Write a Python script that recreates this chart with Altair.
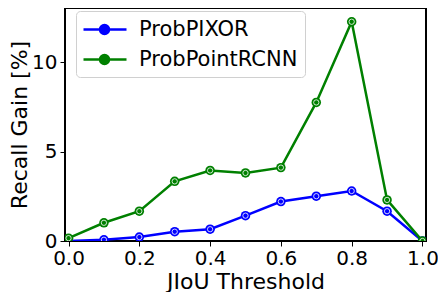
import altair as alt
import pandas as pd

thresholds = [0.0, 0.1, 0.2, 0.3, 0.4, 0.5, 0.6, 0.7, 0.8, 0.9, 1.0]
prob_pixor = [0.0, 0.07, 0.22, 0.52, 0.66, 1.42, 2.21, 2.51, 2.80, 1.67, 0.0]
prob_pointrcnn = [0.16, 1.02, 1.67, 3.34, 3.95, 3.81, 4.11, 7.76, 12.28, 2.30, 0.0]
series_names = ["ProbPIXOR", "ProbPointRCNN"]
series_colors = ["#0000ff", "#008000"]
x_ticks = [0.0, 0.2, 0.4, 0.6, 0.8, 1.0]
y_ticks = [0, 5, 10]

rows = []
for i, t in enumerate(thresholds):
    rows.append({"x": t, "y": prob_pixor[i], "series": series_names[0]})
    rows.append({"x": t, "y": prob_pointrcnn[i], "series": series_names[1]})
df = pd.DataFrame(rows)

FONT = "DejaVu Sans"
xs = alt.Scale(domain=[-0.01, 1.01], nice=False, zero=False)
ys = alt.Scale(domain=[0, 13.05], nice=False, zero=False)
cscale = alt.Scale(domain=series_names, range=series_colors)

# legend glyph: a line with a marker, drawn right of the symbol box centre
legend_path = ("M -1.1 0 L 3.2 0 M 1.45 0 A 0.45 0.45 0 1 1 0.55 0 "
               "A 0.45 0.45 0 1 1 1.45 0 Z")

color = alt.Color(
    "series:N",
    scale=cscale,
    legend=alt.Legend(
        title=None,
        orient="none",
        legendX=11,
        legendY=3,
        symbolType=legend_path,
        symbolSize=400,
        symbolStrokeWidth=2.5,
        labelFont=FONT,
        labelFontSize=21,
        labelColor="black",
        labelOffset=33,
        rowPadding=8,
        padding=7,
        fillColor="white",
        strokeColor="#d0d0d0",
        cornerRadius=4,
    ),
)

x_enc = alt.X(
    "x:Q", scale=xs,
    axis=alt.Axis(values=x_ticks, format=".1f", title="JIoU Threshold",
                  grid=False, domain=False, tickColor="black", tickSize=5,
                  labelFont=FONT, labelFontSize=20, labelColor="black",
                  labelPadding=2, titleFont=FONT, titleFontSize=22,
                  titleFontWeight="normal", titleColor="black", titlePadding=3),
)
y_enc = alt.Y(
    "y:Q", scale=ys,
    axis=alt.Axis(values=y_ticks, title="Recall Gain [%]",
                  grid=False, domain=False, tickColor="black", tickSize=5,
                  labelFont=FONT, labelFontSize=20, labelColor="black",
                  labelPadding=3, titleFont=FONT, titleFontSize=22,
                  titleFontWeight="normal", titleColor="black", titlePadding=0),
)

layers = []
for name in series_names:
    sub = alt.Chart(df[df.series == name])
    layers.append(sub.mark_line(strokeWidth=2.5, clip=True).encode(x=x_enc, y=y_enc, color=color))
    layers.append(sub.mark_point(filled=True, size=90, opacity=1, clip=True).encode(
        x="x:Q", y="y:Q", color=alt.Color("series:N", legend=None, scale=cscale)))
    layers.append(sub.mark_point(filled=False, size=28, stroke="white", strokeWidth=0.8,
                                 opacity=1, clip=True).encode(x="x:Q", y="y:Q"))

chart = alt.layer(*layers).properties(
    width=430, height=284,
    autosize=alt.AutoSizeParams(type="fit", contains="padding"),
    padding={"left": 0, "top": 0, "right": 0, "bottom": 0},
).configure_view(stroke="black", strokeWidth=2)

chart.save("out.html", embed_options={"renderer": "svg", "actions": False})
